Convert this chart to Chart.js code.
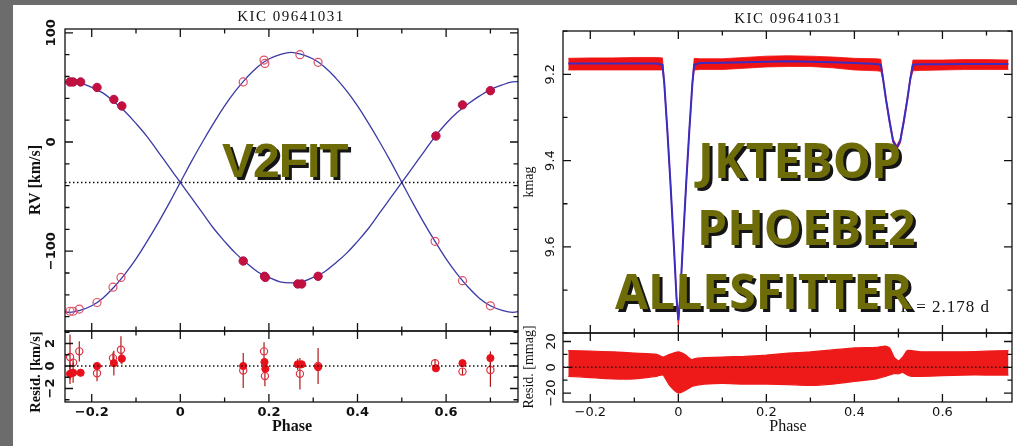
<!DOCTYPE html>
<html>
<head>
<meta charset="utf-8">
<script src="https://cdn.jsdelivr.net/npm/chart.js@4/dist/chart.umd.min.js"></script>
<style>
	html, body { margin: 0; padding: 0; }
	body { width: 1017px; height: 446px; background: #6c6c6c; position: relative; overflow: hidden; }
	.sheet { position: absolute; left: 13px; top: 5px; right: 0; bottom: 0; background: #fff; }
	canvas { position: absolute; left: 0; top: 0; }
	.tag { position: absolute; color: #6e6c08; font-weight: 700; line-height: 1; white-space: nowrap; text-shadow: 3px 3px 0 #151515; z-index: 5; }
	.v2 { font-family: "Liberation Sans", Arial, sans-serif; font-size: 48px; letter-spacing: -1px; }
	.os { font-family: "Open Sans", sans-serif; font-size: 48px; }
</style>
</head>
<body>
<div class="sheet"></div>
<canvas id="rvChart" width="1017" height="446"></canvas>
<canvas id="rvResChart" width="1017" height="446"></canvas>
<canvas id="lcChart" width="1017" height="446"></canvas>
<canvas id="lcResChart" width="1017" height="446"></canvas>
<div class="tag v2" style="left:222px;top:137px">V2FIT</div>
<div class="tag os" style="left:698px;top:136px">JKTEBOP</div>
<div class="tag os" style="left:697px;top:203px">PHOEBE2</div>
<div class="tag os" style="left:615px;top:267px">ALLESFITTER</div>
<script>
// model RV curves
const rvCurvePhase = [-0.275, -0.25, -0.225, -0.2, -0.175, -0.15, -0.125, -0.1, -0.075, -0.05, -0.025, 0,
	0.025, 0.05, 0.075, 0.1, 0.125, 0.15, 0.175, 0.2, 0.225, 0.25, 0.275, 0.3, 0.325, 0.35, 0.375, 0.4,
	0.425, 0.45, 0.475, 0.5, 0.525, 0.55, 0.575, 0.6, 0.625, 0.65, 0.675, 0.7, 0.725, 0.75, 0.775];
const rvCurvePrimary = [54, 55, 54, 50, 45, 37, 28, 17, 5, -9, -23, -37, -51, -65, -79, -91, -102, -111,
	-119, -124, -128, -129, -128, -124, -119, -111, -102, -91, -79, -65, -51, -37, -23, -9, 5, 17, 27, 35,
	42, 48, 52, 55, 55];
const rvCurveSecondary = [-154, -156, -154, -150, -143, -133, -121, -107, -91, -74, -56, -37, -18, 0, 17,
	33, 47, 59, 69, 76, 80, 82, 80, 76, 69, 59, 47, 33, 17, 0, -18, -37, -56, -74, -91, -107, -121, -133,
	-143, -150, -154, -156, -154];

// measured RVs, primary (filled) and secondary (open)
const rvPhasePrimary = [-0.249, -0.242, -0.225, -0.188, -0.150, -0.132, 0.142, 0.190, 0.192, 0.265, 0.274, 0.311, 0.577, 0.637, 0.700];
const rvPrimary = [55, 55, 55, 50, 39, 33, -109, -123, -124, -130, -130, -123, 5.5, 34, 47];
const residPrimary = [-0.7, -0.6, -0.6, 0.0, 0.25, 0.65, 0.0, 0.35, -0.25, 0.15, 0.15, -0.1, -0.2, 0.25, 0.7];
const errPrimary = [0.9, 0.9, 0.3, 0.2, 1.1, 0.5, 0.3, 0.3, 0.3, 0.5, 0.3, 0.3, 0.2, 0.2, 0.6];

const rvPhaseSecondary = [-0.249, -0.242, -0.228, -0.188, -0.152, -0.134, 0.142, 0.189, 0.191, 0.270, 0.311, 0.575, 0.637, 0.700];
const rvSecondary = [-155, -155, -153, -147, -133, -124, 55, 75, 72, 80, 73, -91, -127, -150];
const residSecondary = [0.8, 0.3, 1.3, -0.65, 0.7, 1.45, -0.4, 1.3, -0.9, -0.7, 0.0, 0.25, -0.5, -0.35];
const errSecondary = [2.0, 0.3, 0.9, 0.7, 0.5, 1.2, 1.55, 0.8, 0.9, 1.4, 1.6, 0.3, 0.3, 1.5];

const rvGamma = -37;

// light curve: model and envelope of the photometry
const lcPhase = [-0.25, -0.2, -0.15, -0.1, -0.05, -0.036, -0.032, -0.025, -0.018, -0.01, -0.004, 0, 0.004,
	0.01, 0.018, 0.025, 0.032, 0.036, 0.05, 0.1, 0.15, 0.2, 0.25, 0.3, 0.35, 0.4, 0.45, 0.46, 0.465, 0.472,
	0.48, 0.488, 0.496, 0.504, 0.512, 0.52, 0.527, 0.533, 0.55, 0.6, 0.65, 0.7, 0.75];
const lcModel = [9.175, 9.175, 9.175, 9.175, 9.175, 9.178, 9.22, 9.33, 9.45, 9.6, 9.72, 9.77, 9.72, 9.6, 9.45,
	9.33, 9.22, 9.178, 9.174, 9.173, 9.172, 9.171, 9.17, 9.171, 9.172, 9.174, 9.176, 9.178, 9.21, 9.26, 9.31,
	9.355, 9.37, 9.355, 9.31, 9.26, 9.21, 9.178, 9.177, 9.177, 9.176, 9.176, 9.176];
const lcUpper = [9.163, 9.162, 9.162, 9.161, 9.161, 9.162, 9.215, 9.325, 9.445, 9.595, 9.715, 9.765, 9.715, 9.595,
	9.445, 9.325, 9.215, 9.163, 9.164, 9.164, 9.161, 9.158, 9.157, 9.158, 9.16, 9.163, 9.164, 9.165, 9.205, 9.255,
	9.305, 9.35, 9.365, 9.35, 9.305, 9.255, 9.205, 9.167, 9.167, 9.167, 9.166, 9.166, 9.167];
const lcLower = [9.19, 9.19, 9.19, 9.19, 9.19, 9.19, 9.225, 9.335, 9.455, 9.605, 9.725, 9.785, 9.725, 9.605, 9.455,
	9.335, 9.225, 9.19, 9.189, 9.189, 9.186, 9.183, 9.182, 9.182, 9.185, 9.19, 9.192, 9.193, 9.215, 9.265, 9.315,
	9.36, 9.375, 9.36, 9.315, 9.265, 9.215, 9.192, 9.191, 9.19, 9.189, 9.189, 9.189];

// light-curve residual envelope [mmag]
const lcResPhase = [-0.25, -0.2, -0.15, -0.1, -0.05, -0.035, -0.02, 0, 0.015, 0.03, 0.04, 0.06, 0.1, 0.15,
	0.2, 0.25, 0.3, 0.35, 0.4, 0.45, 0.47, 0.48, 0.49, 0.5, 0.51, 0.52, 0.53, 0.55, 0.6, 0.65, 0.7, 0.75];
const lcResUpper = [13, 12.5, 12, 11, 10, 8, 10, 12, 10, 6, 7, 7.5, 8, 8.5, 9.5, 11, 12, 13.5, 15, 15.5, 16.5,
	15, 8, 5, 8, 13, 13, 12, 12, 12, 12.5, 13];
const lcResLower = [-7, -8, -9, -9, -7, -6, -14, -20, -18, -15, -14, -13, -12.5, -13, -13, -13.5, -14, -13,
	-11, -9, -7, -6, -5, -5, -4, -6, -7, -7, -6.5, -6, -6, -6];

// axis ticks
const phaseMajor = [-0.2, 0, 0.2, 0.4, 0.6];
const phaseMinor = [-0.1, 0.1, 0.3, 0.5, 0.7];
const rvMajor = [-100, 0, 100];
const rvMinor = [-160, -140, -120, -80, -60, -40, -20, 20, 40, 60, 80];
const rvResMajor = [-2, 0, 2];
const rvResMinor = [-3, -1, 1, 3];
const magMajor = [9.2, 9.4, 9.6];
const magMinor = [9.1, 9.3, 9.5, 9.7, 9.8];
const mmagMajor = [-20, 0, 20];
const mmagMinor = [-10, 10];

const titleText = 'KIC 09641031';
const periodText = 'P = 2.178 d';

function pts(xs, ys) {
	return xs.map((x, i) => ({ x, y: ys[i] }));
}

function fmt(v) {
	return String(v).replace('-', '\u2212');
}

const errorBars = {
	id: 'errorBars',
	beforeDatasetsDraw(chart) {
		const { ctx, scales: { y } } = chart;
		ctx.save();
		ctx.strokeStyle = '#b01818';
		ctx.lineWidth = 1.2;
		chart.data.datasets.forEach((ds, i) => {
			if (!ds.errors) {
				return;
			}
			chart.getDatasetMeta(i).data.forEach((pt, j) => {
				const v = ds.data[j].y;
				ctx.beginPath();
				ctx.moveTo(pt.x, y.getPixelForValue(v + ds.errors[j]));
				ctx.lineTo(pt.x, y.getPixelForValue(v - ds.errors[j]));
				ctx.stroke();
			});
		});
		ctx.restore();
	},
};

const frame = {
	id: 'frame',
	afterDatasetsDraw(chart, args, o) {
		const { ctx, chartArea: a, scales: { x, y } } = chart;
		ctx.save();

		if (o.dotted !== undefined) {
			const py = y.getPixelForValue(o.dotted);
			ctx.strokeStyle = '#111';
			ctx.lineWidth = 1.5;
			ctx.setLineDash([1.5, 2.5]);
			ctx.beginPath();
			ctx.moveTo(a.left, py);
			ctx.lineTo(a.right, py);
			ctx.stroke();
			ctx.setLineDash([]);
		}

		ctx.strokeStyle = '#111';
		ctx.lineWidth = 1.3;
		ctx.strokeRect(a.left, a.top, a.right - a.left, a.bottom - a.top);

		ctx.beginPath();
		[[phaseMajor, 8], [phaseMinor, 4.5]].forEach(([vals, len]) => {
			vals.forEach((v) => {
				const px = x.getPixelForValue(v);
				ctx.moveTo(px, a.bottom);
				ctx.lineTo(px, a.bottom - len);
				ctx.moveTo(px, a.top);
				ctx.lineTo(px, a.top + len);
			});
		});
		[[o.yMajor, 8], [o.yMinor, 4.5]].forEach(([vals, len]) => {
			vals.forEach((v) => {
				const py = y.getPixelForValue(v);
				ctx.moveTo(a.left, py);
				ctx.lineTo(a.left + len, py);
				ctx.moveTo(a.right, py);
				ctx.lineTo(a.right - len, py);
			});
		});
		ctx.stroke();

		ctx.fillStyle = '#111';
		ctx.textAlign = 'center';
		ctx.textBaseline = 'middle';
		ctx.font = o.tickFont;
		if (o.xLabelY) {
			phaseMajor.forEach((v) => ctx.fillText(fmt(v), x.getPixelForValue(v), o.xLabelY));
		}
		o.yMajor.forEach((v) => {
			ctx.save();
			ctx.translate(o.yLabelX, y.getPixelForValue(v));
			ctx.rotate(-Math.PI / 2);
			ctx.fillText(fmt(v), 0, 0);
			ctx.restore();
		});

		(o.texts || []).forEach((t) => {
			ctx.save();
			ctx.font = t.font;
			ctx.letterSpacing = t.spacing || '0px';
			ctx.textAlign = t.align || 'center';
			ctx.translate(t.x, t.y);
			if (t.rotate) {
				ctx.rotate(-Math.PI / 2);
			}
			ctx.fillText(t.text, 0, 0);
			ctx.restore();
		});
		ctx.restore();
	},
};

function makeChart(id, datasets, xr, yr, padding, frameOpts) {
	return new Chart(document.getElementById(id), {
		type: 'line',
		data: { datasets },
		options: {
			responsive: false,
			animation: false,
			devicePixelRatio: 1,
			layout: { padding },
			scales: {
				x: { type: 'linear', min: xr[0], max: xr[1], display: false },
				y: { type: 'linear', min: yr[0], max: yr[1], reverse: !!yr[2], display: false },
			},
			plugins: {
				legend: { display: false },
				tooltip: { enabled: false },
				frame: frameOpts,
			},
		},
		plugins: [errorBars, frame],
	});
}

const leftX = [-0.2603, 0.7623];
const rightX = [-0.262, 0.758];
const blue = '#3a3aa6';
const tickFontL = 'bold 13px "DejaVu Sans", sans-serif';
const tickFontR = '13px "DejaVu Sans", sans-serif';

makeChart('rvChart', [
	{ data: pts(rvPhasePrimary, rvPrimary), showLine: false, pointRadius: 4.2, pointBackgroundColor: '#c4103e', pointBorderColor: '#b0124a', pointBorderWidth: 1, order: 0 },
	{ data: pts(rvPhaseSecondary, rvSecondary), showLine: false, pointRadius: 4, pointBackgroundColor: 'rgba(0,0,0,0)', pointBorderColor: '#de5068', pointBorderWidth: 1.2, order: 0 },
	{ data: pts(rvCurvePhase, rvCurvePrimary), borderColor: blue, borderWidth: 1.3, pointRadius: 0, tension: 0.4, order: 1 },
	{ data: pts(rvCurvePhase, rvCurveSecondary), borderColor: blue, borderWidth: 1.3, pointRadius: 0, tension: 0.4, order: 1 },
], leftX, [-173.1, 103.5], { left: 65, top: 29, right: 499, bottom: 115 }, {
	dotted: rvGamma, yMajor: rvMajor, yMinor: rvMinor, tickFont: tickFontL, yLabelX: 52,
	texts: [
		{ text: titleText, x: 291, y: 17, font: '15px "Liberation Serif", serif', spacing: '1.5px' },
		{ text: 'RV [km/s]', x: 36, y: 180, font: 'bold 16px "Liberation Serif", serif', rotate: true },
	],
});

makeChart('rvResChart', [
	{ data: pts(rvPhasePrimary, residPrimary), errors: errPrimary, showLine: false, pointRadius: 3.6, pointBackgroundColor: '#e8101a', pointBorderColor: '#e8101a', order: 0 },
	{ data: pts(rvPhaseSecondary, residSecondary), errors: errSecondary, showLine: false, pointRadius: 3.6, pointBackgroundColor: 'rgba(0,0,0,0)', pointBorderColor: '#e23040', pointBorderWidth: 1.2, order: 1 },
], leftX, [-3.2, 3.11], { left: 65, top: 331, right: 499, bottom: 44 }, {
	dotted: 0, yMajor: rvResMajor, yMinor: rvResMinor, tickFont: tickFontL, yLabelX: 51, xLabelY: 413,
	texts: [
		{ text: 'Phase', x: 292, y: 427, font: 'bold 16px "Liberation Serif", serif' },
		{ text: 'Resid. [km/s]', x: 36, y: 372, font: 'bold 14.5px "Liberation Serif", serif', rotate: true },
	],
});

makeChart('lcChart', [
	{ data: pts(lcPhase, lcUpper), borderColor: '#f01212', backgroundColor: '#f01212', borderWidth: 0.8, fill: '+1', pointRadius: 0, tension: 0, order: 2 },
	{ data: pts(lcPhase, lcLower), borderColor: '#f01212', borderWidth: 0.8, fill: false, pointRadius: 0, tension: 0, order: 2 },
	{ data: pts(lcPhase, lcModel), borderColor: '#3b2cc2', borderWidth: 2, pointRadius: 0, tension: 0, order: 0 },
], rightX, [9.0997, 9.7995, true], { left: 563, top: 31, right: 5, bottom: 113 }, {
	yMajor: magMajor, yMinor: magMinor, tickFont: tickFontR, yLabelX: 551,
	texts: [
		{ text: titleText, x: 788, y: 19, font: '15px "Liberation Serif", serif', spacing: '1.5px' },
		{ text: 'kmag', x: 529, y: 182, font: '14px "Liberation Serif", serif', rotate: true },
		{ text: periodText, x: 990, y: 308, font: '17px "Liberation Serif", serif', spacing: '1px', align: 'right' },
	],
});

makeChart('lcResChart', [
	{ data: pts(lcResPhase, lcResUpper), borderColor: '#ee1a1a', backgroundColor: '#ee1a1a', borderWidth: 1.2, fill: '+1', pointRadius: 0, tension: 0.2, order: 1 },
	{ data: pts(lcResPhase, lcResLower), borderColor: '#ee1a1a', borderWidth: 1.2, fill: false, pointRadius: 0, tension: 0.2, order: 1 },
], rightX, [-26.9, 26.6], { left: 563, top: 333, right: 5, bottom: 44 }, {
	dotted: 0, yMajor: mmagMajor, yMinor: mmagMinor, tickFont: tickFontR, yLabelX: 552, xLabelY: 413,
	texts: [
		{ text: 'Phase', x: 788, y: 427, font: '16px "Liberation Serif", serif' },
		{ text: 'Resid. [mmag]', x: 529, y: 367, font: '14px "Liberation Serif", serif', rotate: true },
	],
});
</script>
</body>
</html>
